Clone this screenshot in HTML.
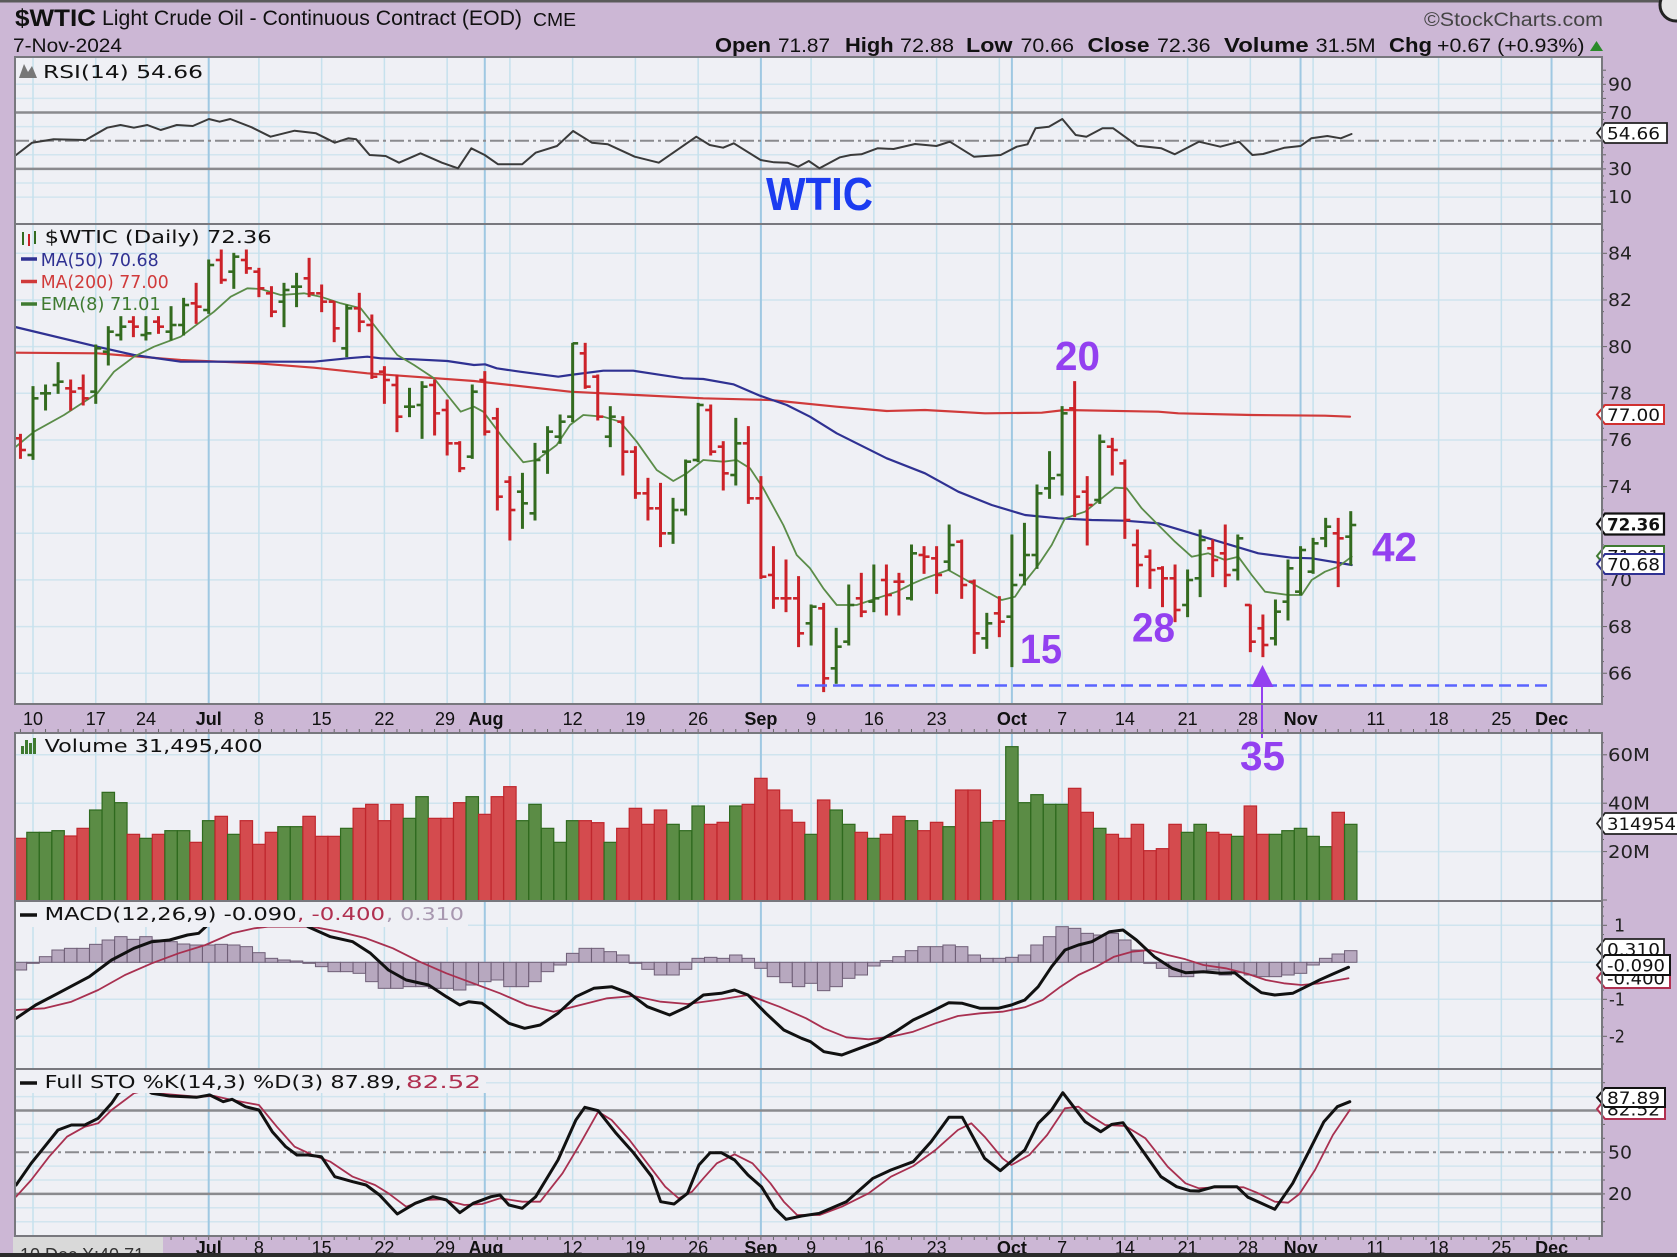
<!DOCTYPE html>
<html><head><meta charset="utf-8"><style>
html,body{margin:0;padding:0;background:#ccb7d5;}
svg{display:block}
text{font-family:"Liberation Sans",Arial,sans-serif;fill:#111}
.dv{font-family:"DejaVu Sans","Liberation Sans",sans-serif}
.ax{font-family:"DejaVu Sans","Liberation Sans",sans-serif;font-size:17.5px;fill:#222}
.bx{font-family:"DejaVu Sans","Liberation Sans",sans-serif;font-size:17px;fill:#111}
.dt{font-size:18px;text-anchor:middle;fill:#111}
.mo{font-weight:bold}
.an{font-size:41px;font-weight:bold;fill:#9340f0}
</style></head><body>
<svg id="s" xmlns="http://www.w3.org/2000/svg" width="1677" height="1257" viewBox="0 0 1677 1257">
<defs>
<clipPath id="cR"><rect x="15" y="57" width="1587" height="167"/></clipPath>
<clipPath id="cP"><rect x="15" y="224" width="1587" height="480"/></clipPath>
<clipPath id="cV"><rect x="15" y="733" width="1587" height="168"/></clipPath>
<clipPath id="cM"><rect x="15" y="901" width="1587" height="168"/></clipPath>
<clipPath id="cS"><rect x="15" y="1069" width="1587" height="167"/></clipPath>
</defs>
<rect width="1677" height="1257" fill="#ccb7d5"/>
<rect x="0" y="0" width="1677" height="2.5" fill="#5a5a5a"/>
<rect x="15" y="57" width="1587" height="647" fill="#eff0f5"/>
<rect x="15" y="733" width="1587" height="503" fill="#eff0f5"/>
<g id="grid"></g>
<g id="dR" clip-path="url(#cR)"></g>
<g id="dP" clip-path="url(#cP)"></g>
<g id="dV" clip-path="url(#cV)"></g>
<g id="dM" clip-path="url(#cM)"></g>
<g id="dS" clip-path="url(#cS)"></g>
<g id="tk"></g>

<rect x="16" y="902" width="452" height="25" fill="#eff0f5"/>
<rect x="16" y="1070" width="470" height="23" fill="#eff0f5"/>

<text x="15" y="26" font-size="24" font-weight="bold" textLength="81" lengthAdjust="spacingAndGlyphs">$WTIC</text>
<text x="102" y="25" font-size="21" textLength="420" lengthAdjust="spacingAndGlyphs">Light Crude Oil - Continuous Contract (EOD)</text>
<text x="533" y="26" font-size="18" textLength="43" lengthAdjust="spacingAndGlyphs">CME</text>
<text x="13" y="52" font-size="19" textLength="109" lengthAdjust="spacingAndGlyphs">7-Nov-2024</text>
<text x="1424" y="26" font-size="19" style="fill:#444" textLength="179" lengthAdjust="spacingAndGlyphs">©StockCharts.com</text>
<text x="715" y="52" font-size="20" font-weight="bold" textLength="56" lengthAdjust="spacingAndGlyphs">Open</text>
<text x="778" y="52" font-size="19" textLength="52" lengthAdjust="spacingAndGlyphs">71.87</text>
<text x="845" y="52" font-size="20" font-weight="bold" textLength="48.6" lengthAdjust="spacingAndGlyphs">High</text>
<text x="900" y="52" font-size="19" textLength="54" lengthAdjust="spacingAndGlyphs">72.88</text>
<text x="966" y="52" font-size="20" font-weight="bold" textLength="46.5" lengthAdjust="spacingAndGlyphs">Low</text>
<text x="1020.5" y="52" font-size="19" textLength="53.5" lengthAdjust="spacingAndGlyphs">70.66</text>
<text x="1087.5" y="52" font-size="20" font-weight="bold" textLength="62" lengthAdjust="spacingAndGlyphs">Close</text>
<text x="1157" y="52" font-size="19" textLength="53.6" lengthAdjust="spacingAndGlyphs">72.36</text>
<text x="1224" y="52" font-size="20" font-weight="bold" textLength="84.7" lengthAdjust="spacingAndGlyphs">Volume</text>
<text x="1315.6" y="52" font-size="19" textLength="60" lengthAdjust="spacingAndGlyphs">31.5M</text>
<text x="1389" y="52" font-size="20" font-weight="bold" textLength="43" lengthAdjust="spacingAndGlyphs">Chg</text>
<text x="1437" y="52" font-size="19" textLength="147.5" lengthAdjust="spacingAndGlyphs">+0.67 (+0.93%)</text>
<polygon points="1590,51 1603,51 1596.5,41" fill="#2a8a2a"/>
<circle cx="1676" cy="5" r="16" fill="#e6e6e6" stroke="#222" stroke-width="3"/>

<polygon points="19,78 24,64 28,72 32,66 37,78" fill="#777"/>
<text class="dv" x="43" y="78" font-size="18" textLength="160" lengthAdjust="spacingAndGlyphs">RSI(14) 54.66</text>
<text x="766" y="210" font-size="46" font-weight="bold" style="fill:#1c3cf0" textLength="107" lengthAdjust="spacingAndGlyphs">WTIC</text>

<line x1="23" y1="232" x2="23" y2="245" stroke="#336b1f" stroke-width="2"/>
<line x1="29" y1="234" x2="29" y2="246" stroke="#cc2229" stroke-width="2"/>
<line x1="35" y1="231" x2="35" y2="244" stroke="#336b1f" stroke-width="2"/>
<text class="dv" x="44.7" y="243" font-size="18" textLength="227" lengthAdjust="spacingAndGlyphs">$WTIC (Daily) 72.36</text>
<line x1="21" y1="259" x2="37" y2="259" stroke="#2f3192" stroke-width="3.5"/>
<text class="dv" x="40.7" y="266" font-size="18" style="fill:#2f3192" textLength="118" lengthAdjust="spacingAndGlyphs">MA(50) 70.68</text>
<line x1="21" y1="281.5" x2="37" y2="281.5" stroke="#d03a3a" stroke-width="3.5"/>
<text class="dv" x="40.7" y="288" font-size="18" style="fill:#d03a3a" textLength="128" lengthAdjust="spacingAndGlyphs">MA(200) 77.00</text>
<line x1="21" y1="304" x2="37" y2="304" stroke="#3f7a30" stroke-width="3.5"/>
<text class="dv" x="40.7" y="310" font-size="18" style="fill:#3f7a30" textLength="120" lengthAdjust="spacingAndGlyphs">EMA(8) 71.01</text>

<rect x="21" y="746" width="3" height="8" fill="#3f7a30"/><rect x="25" y="740" width="3" height="14" fill="#3f7a30"/><rect x="29" y="743" width="3" height="11" fill="#3f7a30"/><rect x="33" y="738" width="3" height="16" fill="#3f7a30"/>
<text class="dv" x="44.6" y="752" font-size="18" textLength="218" lengthAdjust="spacingAndGlyphs">Volume 31,495,400</text>

<line x1="20" y1="915" x2="37" y2="915" stroke="#111" stroke-width="3.5"/>
<text class="dv" x="44.6" y="920" font-size="18" textLength="252" lengthAdjust="spacingAndGlyphs">MACD(12,26,9) -0.090</text>
<text class="dv" x="297" y="920" font-size="18" style="fill:#b03050" textLength="88" lengthAdjust="spacingAndGlyphs">, -0.400</text>
<text class="dv" x="386" y="920" font-size="18" style="fill:#a898b0" textLength="78" lengthAdjust="spacingAndGlyphs">, 0.310</text>

<line x1="20" y1="1083" x2="37" y2="1083" stroke="#111" stroke-width="3.5"/>
<text class="dv" x="44.6" y="1088" font-size="18" textLength="357" lengthAdjust="spacingAndGlyphs">Full STO %K(14,3) %D(3) 87.89,</text>
<text class="dv" x="406" y="1088" font-size="18" style="fill:#b03050" textLength="75" lengthAdjust="spacingAndGlyphs">82.52</text>

<line x1="797" y1="685.5" x2="1550" y2="685.5" stroke="#5a64ff" stroke-width="2.5" stroke-dasharray="12 6"/>
<line x1="1262" y1="687" x2="1262" y2="738" stroke="#9340f0" stroke-width="2"/>
<polygon points="1262.5,665 1251.5,687 1273.5,687" fill="#9340f0"/>
<text class="an" x="1055" y="370" textLength="45" lengthAdjust="spacingAndGlyphs">20</text>
<text class="an" x="1020" y="663" textLength="42" lengthAdjust="spacingAndGlyphs">15</text>
<text class="an" x="1132" y="641.5" textLength="43" lengthAdjust="spacingAndGlyphs">28</text>
<text class="an" x="1372" y="561" textLength="45" lengthAdjust="spacingAndGlyphs">42</text>
<text class="an" x="1240" y="770" textLength="45" lengthAdjust="spacingAndGlyphs">35</text>

<g>
<text class="dt" x="33" y="725">10</text><text class="dt" x="95.8" y="725">17</text><text class="dt" x="146" y="725">24</text>
<text class="dt mo" x="208.7" y="725">Jul</text><text class="dt" x="258.9" y="725">8</text><text class="dt" x="321.7" y="725">15</text>
<text class="dt" x="384.4" y="725">22</text><text class="dt" x="445" y="725">29</text><text class="dt mo" x="486" y="725">Aug</text>
<text class="dt" x="572.7" y="725">12</text><text class="dt" x="635.4" y="725">19</text><text class="dt" x="698.2" y="725">26</text>
<text class="dt mo" x="760.9" y="725">Sep</text><text class="dt" x="811.1" y="725">9</text><text class="dt" x="873.9" y="725">16</text>
<text class="dt" x="936.6" y="725">23</text><text class="dt mo" x="1011.9" y="725">Oct</text><text class="dt" x="1062.1" y="725">7</text>
<text class="dt" x="1124.9" y="725">14</text><text class="dt" x="1187.6" y="725">21</text><text class="dt" x="1248" y="725">28</text>
<text class="dt mo" x="1300.6" y="725">Nov</text><text class="dt" x="1375.9" y="725">11</text><text class="dt" x="1438.6" y="725">18</text>
<text class="dt" x="1501.4" y="725">25</text><text class="dt mo" x="1551.6" y="725">Dec</text>
</g>
<g>
<text class="dt mo" x="208.7" y="1254">Jul</text><text class="dt" x="258.9" y="1254">8</text><text class="dt" x="321.7" y="1254">15</text>
<text class="dt" x="384.4" y="1254">22</text><text class="dt" x="445" y="1254">29</text><text class="dt mo" x="486" y="1254">Aug</text>
<text class="dt" x="572.7" y="1254">12</text><text class="dt" x="635.4" y="1254">19</text><text class="dt" x="698.2" y="1254">26</text>
<text class="dt mo" x="760.9" y="1254">Sep</text><text class="dt" x="811.1" y="1254">9</text><text class="dt" x="873.9" y="1254">16</text>
<text class="dt" x="936.6" y="1254">23</text><text class="dt mo" x="1011.9" y="1254">Oct</text><text class="dt" x="1062.1" y="1254">7</text>
<text class="dt" x="1124.9" y="1254">14</text><text class="dt" x="1187.6" y="1254">21</text><text class="dt" x="1248" y="1254">28</text>
<text class="dt mo" x="1300.6" y="1254">Nov</text><text class="dt" x="1375.9" y="1254">11</text><text class="dt" x="1438.6" y="1254">18</text>
<text class="dt" x="1501.4" y="1254">25</text><text class="dt mo" x="1551.6" y="1254">Dec</text>
</g>
<rect x="13" y="1237" width="150" height="20" fill="#d9d9d9"/>
<text x="20" y="1261" font-size="18" style="fill:#333">10 Dec X:40.71</text>

<text class="ax" x="1608" y="90.5" textLength="24" lengthAdjust="spacingAndGlyphs">90</text><text class="ax" x="1608" y="118.8" textLength="24" lengthAdjust="spacingAndGlyphs">70</text>
<text class="ax" x="1608" y="175" textLength="24" lengthAdjust="spacingAndGlyphs">30</text><text class="ax" x="1608" y="203.2" textLength="24" lengthAdjust="spacingAndGlyphs">10</text>
<text class="ax" x="1608" y="259.5" textLength="24" lengthAdjust="spacingAndGlyphs">84</text><text class="ax" x="1608" y="306.2" textLength="24" lengthAdjust="spacingAndGlyphs">82</text><text class="ax" x="1608" y="352.8" textLength="24" lengthAdjust="spacingAndGlyphs">80</text>
<text class="ax" x="1608" y="399.5" textLength="24" lengthAdjust="spacingAndGlyphs">78</text><text class="ax" x="1608" y="446.2" textLength="24" lengthAdjust="spacingAndGlyphs">76</text><text class="ax" x="1608" y="492.8" textLength="24" lengthAdjust="spacingAndGlyphs">74</text>
<text class="ax" x="1608" y="586.2" textLength="24" lengthAdjust="spacingAndGlyphs">70</text><text class="ax" x="1608" y="632.8" textLength="24" lengthAdjust="spacingAndGlyphs">68</text><text class="ax" x="1608" y="679.5" textLength="24" lengthAdjust="spacingAndGlyphs">66</text>
<text class="ax" x="1608" y="761" textLength="42" lengthAdjust="spacingAndGlyphs">60M</text><text class="ax" x="1608" y="809.4" textLength="42" lengthAdjust="spacingAndGlyphs">40M</text><text class="ax" x="1608" y="857.8" textLength="42" lengthAdjust="spacingAndGlyphs">20M</text>
<text class="ax" x="1614" y="931.5">1</text><text class="ax" x="1609" y="1005.5" textLength="16" lengthAdjust="spacingAndGlyphs">-1</text><text class="ax" x="1609" y="1042.5" textLength="16" lengthAdjust="spacingAndGlyphs">-2</text>
<text class="ax" x="1608" y="1158.4" textLength="24" lengthAdjust="spacingAndGlyphs">50</text><text class="ax" x="1608" y="1200" textLength="24" lengthAdjust="spacingAndGlyphs">20</text>

<path d="M1597,133 L1605,123 L1667,123 L1667,143 L1605,143 Z" fill="#fff" stroke="#222" stroke-width="1.8"/>
<text class="bx" x="1607" y="139.5" textLength="53" lengthAdjust="spacingAndGlyphs">54.66</text>
<path d="M1597,414.5 L1605,405 L1664,405 L1664,424 L1605,424 Z" fill="#fff" stroke="#d03030" stroke-width="2"/>
<text class="bx" x="1607" y="421" textLength="53" lengthAdjust="spacingAndGlyphs">77.00</text>
<path d="M1597,524 L1605,513.5 L1664,513.5 L1664,534.5 L1605,534.5 Z" fill="#fff" stroke="#111" stroke-width="2.2"/>
<text class="bx" x="1607" y="530.5" font-weight="bold" textLength="53" lengthAdjust="spacingAndGlyphs">72.36</text>
<path d="M1597,556 L1605,546 L1664,546 L1664,566 L1605,566 Z" fill="#fff" stroke="#3f7a30" stroke-width="2"/>
<text class="bx" x="1607" y="562.5" textLength="53" lengthAdjust="spacingAndGlyphs">71.01</text>
<path d="M1597,564 L1605,554 L1664,554 L1664,574 L1605,574 Z" fill="#fff" stroke="#2f3192" stroke-width="2"/>
<text class="bx" x="1607" y="570.5" textLength="53" lengthAdjust="spacingAndGlyphs">70.68</text>
<path d="M1597,823.5 L1605,813 L1690,813 L1690,834 L1605,834 Z" fill="#fff" stroke="#222" stroke-width="1.8"/>
<text class="bx" x="1607" y="830" textLength="92" lengthAdjust="spacingAndGlyphs">31495400</text>
<path d="M1597,949 L1605,939 L1664,939 L1664,959 L1605,959 Z" fill="#fff" stroke="#222" stroke-width="1.8"/>
<text class="bx" x="1607" y="955.5" textLength="53" lengthAdjust="spacingAndGlyphs">0.310</text>
<path d="M1597,978 L1605,968 L1670,968 L1670,988 L1605,988 Z" fill="#fff" stroke="#b03050" stroke-width="2"/>
<text class="bx" x="1607" y="984.5" textLength="58" lengthAdjust="spacingAndGlyphs">-0.400</text>
<path d="M1597,965 L1605,955 L1670,955 L1670,975 L1605,975 Z" fill="#fff" stroke="#111" stroke-width="2"/>
<text class="bx" x="1607" y="971.5" textLength="58" lengthAdjust="spacingAndGlyphs">-0.090</text>
<path d="M1597,1109 L1605,1099 L1665,1099 L1665,1119 L1605,1119 Z" fill="#fff" stroke="#b03050" stroke-width="2"/>
<text class="bx" x="1607" y="1115.5" textLength="53" lengthAdjust="spacingAndGlyphs">82.52</text>
<path d="M1597,1097.5 L1605,1088 L1665,1088 L1665,1107 L1605,1107 Z" fill="#fff" stroke="#111" stroke-width="2"/>
<text class="bx" x="1607" y="1104" textLength="53" lengthAdjust="spacingAndGlyphs">87.89</text>

<g fill="none" stroke="#78787e" stroke-width="2">
<rect x="15" y="57" width="1587" height="167"/>
<rect x="15" y="224" width="1587" height="480"/>
<rect x="15" y="733" width="1587" height="168"/>
<rect x="15" y="901" width="1587" height="168"/>
<rect x="15" y="1069" width="1587" height="167"/>
</g>
<rect x="0" y="1253" width="1677" height="4" fill="#2b2b2b"/>
</svg>
<script>
(function(){
var NS='http://www.w3.org/2000/svg';
function mk(tag,a,p){var e=document.createElementNS(NS,tag);for(var k in a)e.setAttribute(k,a[k]);p.appendChild(e);return e;}
var G=document.getElementById('grid');
var gR=document.getElementById('dR'),gP=document.getElementById('dP'),gV=document.getElementById('dV'),gM=document.getElementById('dM'),gS=document.getElementById('dS'),TK=document.getElementById('tk');
function X(d){return 33+12.55*d;}
var L=15,R=1602;
var panels=[[57,224],[224,704],[733,901],[901,1069],[1069,1236]];
var weeks=[0,5,9,14,18,23,28,33,36,38,43,48,53,58,62,67,72,77,78,82,87,92,97,101,102,107,112,117,121];
var months=[14,36,58,78,101,121];
function hl(y,c,w,da){var a={x1:L,x2:R,y1:y,y2:y,stroke:c,'stroke-width':w};if(da)a['stroke-dasharray']=da;mk('line',a,G);}
var rY=function(v){return 140.7-(v-50)*1.41;};
var pY=function(p){return 253.3+(84-p)*23.33;};
var sY=function(v){return 1221.7-v*1.39;};
[10,20,40,60,80,90].forEach(function(v){hl(rY(v),'#d2e5ef',1.5);});
for(var p=66;p<=84;p+=2)hl(pY(p),'#cfe4ee',1.5);
[754.8,803.2,851.6].forEach(function(y){hl(y,'#cfe4ee',1.5);});
[925.3,962.3,999.3,1036.3].forEach(function(y){hl(y,'#cfe4ee',1.5);});
[0,10,30,40,60,70,90,100].forEach(function(v){hl(sY(v),'#d2e5ef',1.5);});
panels.forEach(function(pn){weeks.forEach(function(w){var x=X(w);var m=months.indexOf(w)>=0;mk('line',{x1:x,x2:x,y1:pn[0],y2:pn[1],stroke:m?'#9fc8e2':'#c6e1ed','stroke-width':m?2:1.5},G);});});
hl(rY(70),'#8a8a8e',2.5);hl(rY(30),'#8a8a8e',2.5);hl(rY(50),'#8a8a8e',2,'14 4 3 4');
hl(sY(80),'#8a8a8e',2.5);hl(sY(20),'#8a8a8e',2.5);hl(sY(50),'#8a8a8e',2,'14 4 3 4');
for(var d=-1;d<=126;d++){var x=X(d);if(x<16||x>1601)continue;mk('line',{x1:x,x2:x,y1:729,y2:733,stroke:'#666','stroke-width':1},TK);mk('line',{x1:x,x2:x,y1:1236,y2:1240,stroke:'#666','stroke-width':1},TK);}
function at(y,len){mk('line',{x1:1602,x2:1602+len,y1:y,y2:y,stroke:'#666','stroke-width':1},TK);}
for(var v=0;v<=100;v+=5)at(rY(v),v%10?2:4);
for(var q=64.5;q<=85;q+=0.5){var yy=pY(q);if(yy>226&&yy<702)at(yy,(q%2===0)?5:2);}
for(var m=0;m<=65;m+=5){var y2=900-m*2.42;if(y2>735)at(y2,m%20===0?5:2);}
for(var mm=-3.5;mm<=1.5;mm+=0.25){var y3=962.3-mm*37;if(y3>903&&y3<1067)at(y3,(mm%1===0)?5:2);}
for(var s=0;s<=100;s+=10)at(sY(s),3);
function pl(pts,g,stroke,w){var str=pts.map(function(p){return p[0].toFixed(1)+','+p[1].toFixed(1);}).join(' ');mk('polyline',{points:str,fill:'none',stroke:stroke,'stroke-width':w,'stroke-linejoin':'round','stroke-linecap':'round'},g);}
var r1=[[30,465],[60,428],[100,418],[160,420],[200,383],[225,375],[250,383],[275,375],[300,390],[330,375],[360,378],[390,357],[410,365],[430,357],[470,382],[505,410],[550,392],[590,400],[625,428],[650,415],[665,418],[690,465],[720,468],[745,488],[785,460],[825,488],[855,505],[880,445],[905,465],[930,493],[975,493],[1000,458],[1040,438],[1070,393],[1105,428],[1135,433],[1185,470],[1230,488],[1300,410],[1325,435],[1350,443],[1370,430],[1420,480],[1445,487],[1470,488],[1490,500],[1510,483],[1530,505]];
var r2=[[0,472],[20,465],[40,463],[70,445],[100,447],[140,432],[180,438],[205,425],[250,470],[300,465],[330,440],[350,433],[365,385],[390,380],[415,357],[440,405],[460,410],[490,385],[510,385],[555,437],[600,445],[625,463],[670,425],[710,440],[745,425],[770,465],[790,462],[830,443],[860,438],[880,415],[910,408],[935,415],[955,402]];
var rsi=r1.map(function(p){return [p[0]/1.867,p[1]/3];}).concat(r2.map(function(p){return [840+p[0]/1.867,p[1]/3];}));
pl(rsi,gR,'#3a3a3a',2);
var ma50=[[14,326.7],[97.3,346.7],[134,355],[180.7,361.7],[257.3,361.7],[314,361.7],[347.3,358.3],[367.3,356.7],[380.7,358.3],[414,359.3],[447.3,361],[474,365],[485,364.3],[496.7,368.3],[520,371.7],[558.3,376.7],[570,375],[603.3,370.7],[633.3,370.7],[656.7,374.3],[683.3,378.3],[703.3,379],[733.3,384.3],[760,395.7],[786.7,405],[810,416.7],[836.7,433.3],[886.7,458.3],[925,473.3],[958.3,491.7],[991.7,505],[1025,515],[1058.3,518.3],[1091.7,520],[1125,520.7],[1158.3,523.3],[1191.7,533.3],[1225,543.3],[1258.3,553.3],[1291.7,557.7],[1311.7,558.3],[1351.7,565]];
var ma200=[[14,352.7],[97.3,353.3],[180.7,360],[257.3,363.3],[314,367.7],[367.3,373.3],[414,376.7],[474,381],[570,391.7],[636.7,395],[703.3,398.3],[770,400],[836.7,406.7],[886.7,411],[925,410],[985,413.3],[1041.7,412.7],[1065,410],[1158.3,411.7],[1178.3,413.3],[1251.7,415],[1325,415.7],[1350,416.7]];
var ema=[[14,448.3],[34,431.7],[64,415],[97.3,393.3],[114,371.7],[134,356.7],[154,346.7],[180.7,336.7],[200.7,321.7],[214,311.7],[230.7,296.7],[247.3,288.3],[260.7,289],[280.7,295],[304,293.3],[320.7,296.7],[340.7,303.3],[360.7,308.3],[374,325],[397.3,355],[414,365],[434,378.3],[447.3,395],[460.7,411.7],[474,406.7],[483.3,411.7],[503.3,438.3],[523.3,462.3],[536.7,460],[556.7,445],[570,425],[583.3,415],[603.3,416.7],[620,421.7],[636.7,441.7],[656.7,470],[673.3,481],[686.7,473.3],[703.3,460],[723.3,461.7],[736.7,460],[750,468.3],[763.3,488.3],[783.3,525],[796.7,555],[810,568.3],[823.3,588.3],[836.7,605],[856.7,605],[876.7,598.3],[896.7,591.7],[913.3,583.3],[925,578.3],[948.3,570],[975,585],[1001.7,600],[1015,596.7],[1025,581.7],[1038.3,565],[1051.7,545],[1065,518.3],[1085,511.7],[1101.7,498.3],[1115,487.7],[1126.7,488.3],[1141.7,508.3],[1158.3,525],[1175,541.7],[1191.7,556.7],[1208.3,553.3],[1225,560],[1238.3,556.7],[1251.7,575],[1265,591.7],[1288.3,595],[1301.7,595],[1311.7,580],[1325,571.7],[1338.3,566.7],[1351.7,556.7]];
pl(ma200,gP,'#d03a3a',2.2);
pl(ma50,gP,'#2f3192',2.2);
pl(ema,gP,'#5a8c48',1.8);
var bars=[[-1,628,700,640,675,0],[0,485,703,690,520,1],[1,480,555,505,505,1],[2,413,505,480,470,1],[3,465,555,490,500,0],[4,450,540,490,520,0],[5,360,535,500,370,1],[6,305,420,380,320,1],[7,275,345,330,305,1],[8,275,335,290,305,0],[9,275,345,330,325,1],[10,275,325,290,305,0],[11,245,345,320,300,1],[12,220,330,300,240,1],[13,175,295,235,245,0],[14,105,265,255,120,1],[15,75,175,105,165,0],[16,85,190,140,95,1],[17,75,145,105,130,0],[18,130,215,140,190,0],[19,185,275,205,260,0],[20,175,305,230,195,1],[21,145,245,185,185,1],[22,100,215,160,205,0],[23,180,260,205,230,0],[24,230,350,230,310,0],[25,240,395,370,250,1],[26,205,320,250,290,0],[27,270,460,300,455,0],[28,425,535,440,465,0],[29,450,620,480,575,0],[30,490,575,545,545,1],[31,470,640,540,485,1],[32,465,630,480,565,0],[33,525,690,555,655,0],[34,650,740,655,730,0],[35,480,700,695,500,1],
[36,440,630,465,620,0],[37,550,855,580,815,0],[38,755,945,770,855,0],[39,745,910,800,835,1],[40,655,885,865,705,1],[41,605,745,680,620,1],[42,570,655,635,590,1],[43,355,590,575,355,1],[44,355,490,385,485,0],[45,450,585,455,575,0],[46,545,665,635,575,1],[47,575,750,590,680,0],[48,665,820,680,805,0],[49,760,885,805,850,0],[50,775,965,850,925,0],[51,820,955,925,855,1],[52,705,870,855,710,1],[53,535,710,705,540,1],[54,540,690,555,680,0],[55,650,795,665,745,0],[56,580,780,750,655,1],[57,605,835,655,820,0],[58,755,1060,820,1055,0],[59,965,1150,1050,1120,0],[60,1005,1160,1120,1120,0],[61,1055,1265,1120,1225,0],[62,1140,1260,1195,1145,1],[63,1135,1400,1150,1360,0],[64,1210,1375,1330,1265,1],[65,1080,1260,1250,1140,1],[66,1045,1175,1120,1160,0],[67,1020,1160,1130,1120,1],[68,1020,1170,1065,1110,0],[69,1045,1170,1070,1070,0],[70,960,1125,1120,985,1],[71,965,1045,990,995,0],
[72,965,1105,1000,1050,0],[73,900,1035,1010,960,1],[74,945,1120,950,1080,0],[75,1065,1285,1070,1225,0],[76,1165,1270,1240,1195,1],[77,1115,1235,1165,1190,0],[78,930,1325,1175,1080,1],[79,895,1080,1050,990,1],[80,780,1030,990,805,1],[81,680,820,790,760,1],[82,545,810,750,565,1],[83,470,875,550,815,0],[84,755,960,800,840,0],[85,630,835,825,650,1],[86,640,750,665,675,0],[87,705,940,715,885,0],[88,915,1085,960,1020,0],[89,975,1090,995,1035,0],[90,1025,1145,1030,1060,0],[91,1020,1190,1060,1155,0],[92,1035,1175,1140,1065,1],[93,915,1115,1060,945,1],[94,945,1055,970,1005,0],[95,900,1085,985,1050,0],[96,930,1065,1035,940,1],[97,1140,1280,1140,1250,0],[98,1170,1295,1210,1260,0],[99,1125,1260,1240,1160,1],[100,1005,1185,1130,1030,1],[101,965,1110,1100,975,1],[102,940,1045,1040,955,1],[103,880,965,940,905,1],[104,880,1085,925,940,0],[105,860,1020,935,900,1]];
bars.forEach(function(b){var x=X(b[0]);var y=function(Y){return 225+Y/3;};var c=b[5]?'#336b1f':'#cc2229';
mk('line',{x1:x,x2:x,y1:y(b[1])-0.5,y2:y(b[2])+0.5,stroke:c,'stroke-width':3},gP);
mk('line',{x1:x-5.5,x2:x,y1:y(b[3]),y2:y(b[3]),stroke:c,'stroke-width':2.6},gP);
mk('line',{x1:x,x2:x+5.5,y1:y(b[4]),y2:y(b[4]),stroke:c,'stroke-width':2.6},gP);});
var vol=[[-1,415,0],[0,397,1],[1,397,1],[2,392,1],[3,408,0],[4,385,0],[5,330,1],[6,277,1],[7,308,1],[8,403,0],[9,415,1],[10,403,0],[11,392,1],[12,392,1],[13,427,0],[14,362,1],[15,349,0],[16,403,1],[17,362,0],[18,433,0],[19,397,0],[20,380,1],[21,380,1],[22,349,0],[23,409,0],[24,409,0],[25,385,1],[26,325,0],[27,313,0],[28,362,0],[29,313,0],[30,355,1],[31,290,1],[32,355,0],[33,355,0],[34,308,0],[35,290,1],[36,343,0],[37,290,0],[38,260,0],[39,362,1],[40,313,1],[41,385,1],[42,427,1],[43,362,1],[44,362,0],[45,368,0],[46,427,1],[47,385,0],[48,325,0],[49,373,0],[50,330,0],[51,373,1],[52,392,1],[53,318,1],[54,373,0],[55,367,0],[56,318,1],[57,313,0],[58,235,0],[59,270,0],[60,330,0],[61,367,0],[62,403,1],[63,300,0],[64,330,1],[65,373,1],[66,397,0],[67,415,1],[68,403,0],[69,349,0],[70,362,1],[71,392,0],[72,367,0],[73,380,1],[74,270,0],[75,270,0],[76,367,1],[77,362,0],[78,140,1],[79,308,1],[80,284,1],[81,313,1],[82,313,1],[83,265,0],[84,337,0],[85,385,1],[86,403,0],[87,415,0],[88,373,0],[89,452,0],[90,446,0],[91,373,0],[92,397,1],[93,373,1],[94,397,0],[95,403,0],[96,409,1],[97,318,0],[98,403,0],[99,403,1],[100,392,1],[101,385,1],[102,409,1],[103,440,1],[104,337,0],[105,373,1]];
vol.forEach(function(v){var x=X(v[0]);var t=700+v[1]/3;mk('rect',{x:x-6.2,y:t,width:12.4,height:901-t,fill:v[2]?'#5b8c45':'#d44b4e',stroke:v[2]?'#2f6a1e':'#c0272d','stroke-width':1.2},gV);});
var hist=[[-1,810],[0,790],[1,770],[2,750],[3,745],[4,745],[5,733],[6,720],[7,710],[8,718],[9,710],[10,720],[11,725],[12,732],[13,735],[14,735],[15,733],[16,735],[17,740],[18,758],[19,775],[20,780],[21,783],[22,790],[23,800],[24,815],[25,815],[26,820],[27,845],[28,865],[29,865],[30,860],[31,860],[32,865],[33,865],[34,870],[35,855],[36,845],[37,840],[38,860],[39,860],[40,845],[41,815],[42,795],[43,760],[44,745],[45,745],[46,755],[47,765],[48,790],[49,808],[50,825],[51,825],[52,808],[53,775],[54,772],[55,775],[56,765],[57,775],[58,805],[59,830],[60,848],[61,860],[62,850],[63,872],[64,860],[65,835],[66,825],[67,798],[68,782],[69,770],[70,752],[71,740],[72,740],[73,735],[74,740],[75,765],[76,775],[77,775],[78,772],[79,765],[80,735],[81,710],[82,680],[83,685],[84,700],[85,705],[86,700],[87,720],[88,750],[89,790],[90,805],[91,830],[92,830],[93,815],[94,810],[95,825],[96,818],[97,825],[98,830],[99,830],[100,825],[101,820],[102,795],[103,775],[104,762],[105,752]];
var z0=962.3;
hist.forEach(function(h){var x=X(h[0]);var t=700+h[1]/3;var y0=Math.min(t,z0),y1=Math.max(t,z0);if(y1-y0<0.8)y1=y0+0.8;mk('rect',{x:x-6.2,y:y0,width:12.4,height:y1-y0,fill:'#b7a8bf',stroke:'#6f5f77','stroke-width':1},gM);});
function c6(p){return [p[0]/2.24,700+p[1]/3];}
function c7(p){return [690+p[0]/2.24,700+p[1]/3];}
var mb=[[36,955],[80,915],[130,880],[200,830],[250,780],[300,745],[340,725],[380,720],[420,705],[445,700],[465,675],[520,640],[600,630],[660,650],[690,680],[740,710],[790,725],[830,760],[870,810],[910,840],[960,855],[1000,890],[1030,915],[1050,905],[1080,910],[1110,940],[1140,970],[1175,985],[1210,975],[1250,940],[1290,890],[1330,865],[1370,860],[1410,880],[1450,920],[1500,945],[1540,920]].map(c6).concat([[30,885],[70,880],[100,870],[130,885],[170,940],[210,990],[250,1015],[270,1025],[300,1055],[340,1065],[380,1045],[420,1025],[460,995],[500,960],[540,935],[580,908],[610,910],[650,925],[690,925],[720,915],[750,900],[780,860],[810,800],[840,750],[870,735],[900,725],[940,695],[970,690],[1000,720],[1040,770],[1080,805],[1110,818],[1150,815],[1190,820],[1220,818],[1250,850],[1280,878],[1310,885],[1350,880],[1380,860],[1410,840],[1440,822],[1475,802]].map(c7));
var mr=[[36,930],[100,925],[160,905],[220,870],[280,825],[340,790],[400,760],[460,735],[520,700],[570,685],[600,680],[700,680],[760,695],[820,715],[880,745],[940,785],[1000,820],[1060,850],[1120,880],[1180,915],[1240,935],[1300,915],[1360,895],[1420,888],[1480,905],[1540,912]].map(c6).concat([[60,900],[130,885],[200,920],[260,955],[300,985],[350,1012],[400,1018],[450,1010],[500,995],[550,970],[600,948],[650,940],[700,935],[750,922],[790,900],[830,860],[870,825],[910,800],[950,770],[990,755],[1030,750],[1070,765],[1110,778],[1150,795],[1200,805],[1250,822],[1290,840],[1330,850],[1370,855],[1410,850],[1440,843],[1475,835]].map(c7));
pl(mr,gM,'#a83050',1.8);
pl(mb,gM,'#111',3);
function c9(p){return [p[0]/2.24,1060+p[1]/3];}
function c10(p){return [690+p[0]/2.24,1060+p[1]/3];}
var kb=[[36,375],[70,310],[100,260],[130,210],[160,195],[190,195],[220,175],[250,130],[265,100],[300,60],[340,100],[380,108],[440,112],[470,105],[500,125],[520,118],[550,140],[580,150],[610,215],[640,260],[665,285],[690,285],[720,290],[750,350],[790,365],[820,375],[850,405],[890,462],[930,430],[970,410],[1000,420],[1030,458],[1060,430],[1100,410],[1120,405],[1140,435],[1170,445],[1200,410],[1250,300],[1290,180],[1310,142],[1340,152],[1380,220],[1420,280],[1460,350],[1480,425],[1510,432],[1540,400]].map(c9).concat([[20,315],[45,278],[70,278],[100,300],[130,345],[160,380],[190,445],[215,478],[250,468],[290,460],[350,425],[410,355],[450,330],[500,305],[540,245],[580,172],[610,172],[660,295],[695,332],[750,270],[780,190],[810,150],[835,98],[885,185],[920,215],[945,193],[970,188],[1010,265],[1055,350],[1090,380],[1120,392],[1140,393],[1175,380],[1225,380],[1250,412],[1280,430],[1310,448],[1350,370],[1390,265],[1420,185],[1450,140],[1478,125]].map(c10));
var kd=[[36,410],[70,360],[110,290],[150,230],[190,200],[220,190],[250,150],[300,100],[330,90],[350,100],[440,110],[480,108],[520,120],[580,135],[620,200],[660,260],[700,285],[740,305],[790,350],[840,375],[870,400],[910,440],[950,420],[990,418],[1040,435],[1080,432],[1120,415],[1170,425],[1210,425],[1260,340],[1300,250],[1340,155],[1370,180],[1410,240],[1450,310],[1490,380],[1520,415],[1550,395]].map(c9).concat([[30,355],[60,310],[100,283],[140,310],[180,370],[210,425],[240,465],[290,465],[340,440],[400,400],[450,350],[500,318],[550,270],[600,210],[630,190],[660,230],[700,295],[720,315],[760,285],[800,225],[840,145],[870,140],[900,170],[930,195],[975,198],[1020,235],[1070,320],[1110,370],[1140,385],[1180,382],[1240,382],[1270,398],[1310,425],[1340,428],[1365,402],[1400,330],[1440,225],[1478,150]].map(c10));
pl(kd,gS,'#a83050',1.8);
pl(kb,gS,'#111',3);
})();
</script>
</body></html>
